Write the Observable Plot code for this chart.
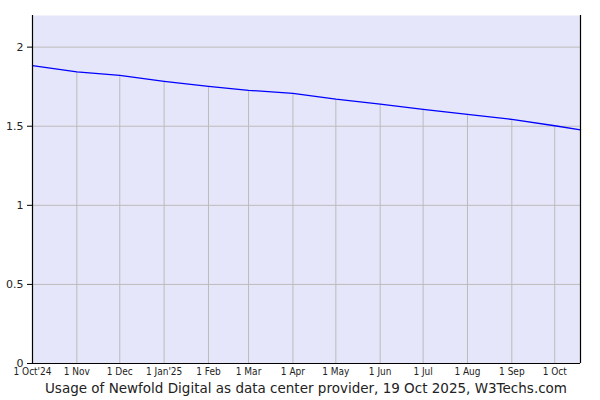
<!DOCTYPE html>
<html>
<head>
<meta charset="utf-8">
<script src="https://cdn.jsdelivr.net/npm/d3@7"></script>
<script src="https://cdn.jsdelivr.net/npm/@observablehq/plot@0.6"></script>
<style>
  body { margin: 0; background: #fff; }
  #wrap { width: 600px; height: 400px; position: relative; }
  #caption {
    position: absolute; left: 32px; width: 548px; top: 380px;
    text-align: center; font-family: "DejaVu Sans", Verdana, sans-serif;
    font-size: 13.5px; line-height: 16px; color: #222; white-space: nowrap;
  }
  g[aria-label="x-axis tick label"] text {
    font-family: "DejaVu Sans Condensed", "DejaVu Sans", sans-serif;
    font-stretch: condensed;
  }
</style>
</head>
<body>
<div id="wrap"></div>
<script>
// Data
const dates = ["2024-10-01","2024-11-01","2024-12-01","2025-01-01","2025-02-01","2025-03-01","2025-04-01","2025-05-01","2025-06-01","2025-07-01","2025-08-01","2025-09-01","2025-10-01","2025-10-19"];
const values = [1.883,1.844,1.822,1.784,1.752,1.727,1.708,1.671,1.640,1.607,1.575,1.543,1.503,1.477];
const tickDates = ["2024-10-01","2024-11-01","2024-12-01","2025-01-01","2025-02-01","2025-03-01","2025-04-01","2025-05-01","2025-06-01","2025-07-01","2025-08-01","2025-09-01","2025-10-01"];
const tickLabels = ["1 Oct'24","1 Nov","1 Dec","1 Jan'25","1 Feb","1 Mar","1 Apr","1 May","1 Jun","1 Jul","1 Aug","1 Sep","1 Oct"];
const yTicks = [0, 0.5, 1, 1.5, 2];
const captionText = "Usage of Newfold Digital as data center provider, 19 Oct 2025, W3Techs.com";

const data = dates.map((d, i) => ({date: new Date(d), value: values[i]}));
const monthData = data.filter(d => tickDates.includes(d.date.toISOString().slice(0,10)));
const xStart = new Date(dates[0]);
const xEnd = new Date(dates[dates.length - 1]);

const chart = Plot.plot({
  width: 600,
  height: 380,
  marginTop: 15,
  marginBottom: 17,
  marginLeft: 32,
  marginRight: 20,
  style: {background: "transparent", fontFamily: "DejaVu Sans, sans-serif"},
  x: {type: "utc", domain: [xStart, xEnd]},
  y: {domain: [0, 2.2]},
  marks: [
    Plot.frame({fill: "#e6e6fa", stroke: "none"}),
    Plot.ruleY(yTicks.filter(d => d > 0), {stroke: "#bbbbbb", strokeWidth: 1}),
    Plot.ruleX(monthData, {x: "date", y1: 0, y2: "value", stroke: "#bbbbbb", strokeWidth: 1}),
    Plot.line(data, {x: "date", y: "value", stroke: "#0000ff", strokeWidth: 1.3}),
    Plot.ruleX([xStart, xEnd], {stroke: "black", strokeWidth: 1.2}),
    Plot.ruleY([0], {stroke: "black", strokeWidth: 1.2}),
    Plot.axisY({ticks: yTicks, tickSize: 5, tickPadding: 4, tickFormat: d => String(d), fontSize: 11, fill: "#222", stroke: "black", label: null}),
    Plot.axisX({ticks: tickDates.map(d => new Date(d)), tickSize: 0, tickPadding: 4, tickFormat: (d, i) => tickLabels[i], fontSize: 10, fill: "#222", label: null})
  ]
});

const wrap = document.getElementById("wrap");
wrap.appendChild(chart);
const cap = document.createElement("div");
cap.id = "caption";
cap.textContent = captionText;
wrap.appendChild(cap);
</script>
</body>
</html>
